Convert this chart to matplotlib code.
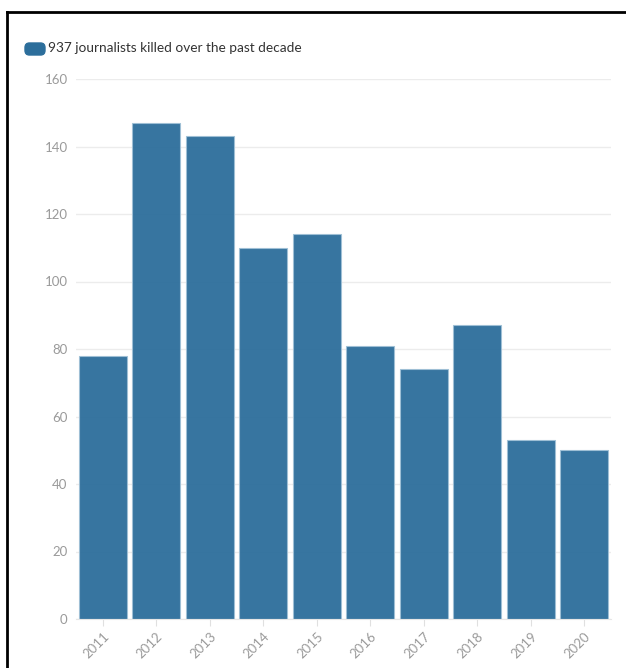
import matplotlib
matplotlib.use('Agg')
import matplotlib.pyplot as plt
from matplotlib.lines import Line2D
from matplotlib.patches import FancyBboxPatch

years = ['2011', '2012', '2013', '2014', '2015', '2016', '2017', '2018', '2019', '2020']
killed = [78, 147, 143, 110, 114, 81, 74, 87, 53, 50]
legend_label = '937 journalists killed over the past decade'
y_ticks = [0, 20, 40, 60, 80, 100, 120, 140, 160]

plt.rcParams['font.family'] = ['Lato', 'DejaVu Sans']

fig = plt.figure(figsize=(6.26, 6.68), dpi=100)
ax = fig.add_axes([76 / 626, 1 - 619 / 668, (611 - 76) / 626, (619 - 79) / 668])

x = list(range(len(years)))
ax.bar(x, killed, width=0.9, color='#2c6e9b', alpha=0.95,
       edgecolor='#9fc0d6', linewidth=0.8, zorder=2)

ax.set_xlim(-0.5, len(years) - 0.5)
ax.set_ylim(0, 160)
ax.set_yticks(y_ticks)
ax.set_xticks(x)
ax.set_xticklabels(years, rotation=45, ha='right', rotation_mode='anchor')
ax.tick_params(axis='y', length=0, colors='#9a9a9a', labelsize=9.5, pad=6)
ax.tick_params(axis='x', length=5, color='#e0e0e0', colors='#9a9a9a', labelsize=9.5, pad=3)
ax.grid(axis='y', color='#ececec', linewidth=1, zorder=0)
for s in ['top', 'right', 'left']:
    ax.spines[s].set_visible(False)
ax.spines['bottom'].set_color('#e6e6e6')

# legend
fig.patches.append(FancyBboxPatch((25 / 626, 1 - 55 / 668), 20 / 626, 12 / 668,
                                  boxstyle='round,pad=0,rounding_size=0.007',
                                  transform=fig.transFigure, color='#2c6e9b'))
fig.text(48 / 626, 1 - 48.5 / 668, legend_label, fontsize=9.8, color='#333333', va='center')

# frame lines
fig.add_artist(Line2D([7 / 626, 7 / 626], [0, 1 - 12 / 668], color='black', linewidth=2,
                      transform=fig.transFigure))
fig.add_artist(Line2D([7 / 626, 1], [1 - 12 / 668, 1 - 12 / 668], color='black', linewidth=2,
                      transform=fig.transFigure))

fig.savefig('out.png', dpi=100, facecolor='white')
